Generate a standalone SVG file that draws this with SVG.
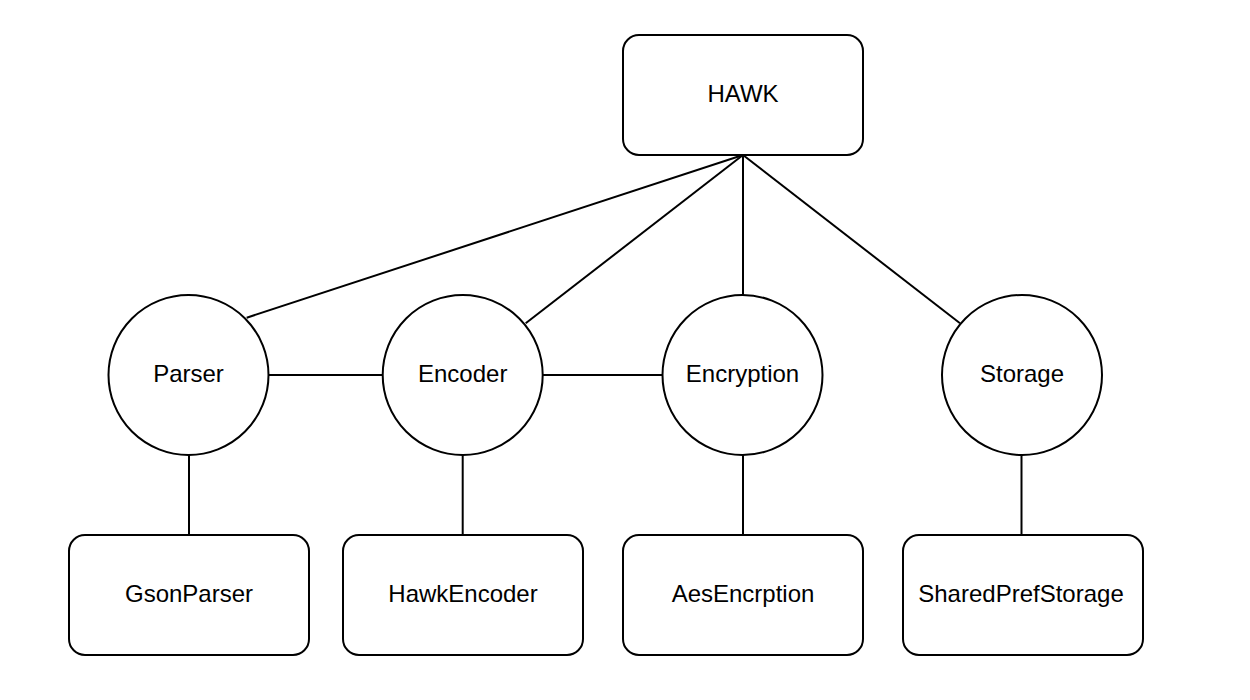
<svg xmlns="http://www.w3.org/2000/svg" width="1250" height="700" viewBox="0 0 1250 700">
<style>
.n{fill:#fff;stroke:#000;stroke-width:2}
.t{font-family:"Liberation Sans",Arial,sans-serif;font-size:24px;fill:#000;text-anchor:middle}
.c line{stroke:#000;stroke-width:2}
</style>
<rect width="1250" height="700" fill="#fff"/>
<g class="c" id="connectors">
<line x1="743" y1="155" x2="246.7" y2="317.7"/>
<line x1="743" y1="155" x2="525.7" y2="323.3"/>
<line x1="743" y1="155" x2="743" y2="295"/>
<line x1="743" y1="155" x2="960" y2="323.3"/>
<line x1="268.3" y1="375" x2="382.7" y2="375"/>
<line x1="542.7" y1="375" x2="662.5" y2="375"/>
<line x1="189" y1="455" x2="189" y2="535"/>
<line x1="462.7" y1="455" x2="462.7" y2="535"/>
<line x1="743" y1="455" x2="743" y2="535"/>
<line x1="1021.5" y1="455" x2="1021.5" y2="535"/>
</g>
<g id="hawk"><rect class="n" x="623" y="35" width="240" height="120" rx="16"/><text class="t" x="743" y="102">HAWK</text></g>
<g id="parser"><circle class="n" cx="188.5" cy="375" r="80"/><text class="t" x="188.5" y="382">Parser</text></g>
<g id="encoder"><circle class="n" cx="462.7" cy="375" r="80"/><text class="t" x="462.7" y="382">Encoder</text></g>
<g id="encryption"><circle class="n" cx="742.5" cy="375" r="80"/><text class="t" x="742.5" y="382">Encryption</text></g>
<g id="storage"><circle class="n" cx="1022" cy="375" r="80"/><text class="t" x="1022" y="382">Storage</text></g>
<g id="gsonparser"><rect class="n" x="69" y="535" width="240" height="120" rx="16"/><text class="t" x="189" y="602">GsonParser</text></g>
<g id="hawkencoder"><rect class="n" x="343" y="535" width="240" height="120" rx="16"/><text class="t" x="463" y="602">HawkEncoder</text></g>
<g id="aesencrption"><rect class="n" x="623" y="535" width="240" height="120" rx="16"/><text class="t" x="743" y="602">AesEncrption</text></g>
<g id="sharedprefstorage"><rect class="n" x="903" y="535" width="240" height="120" rx="16"/><text class="t" x="1021" y="602">SharedPrefStorage</text></g>
</svg>
